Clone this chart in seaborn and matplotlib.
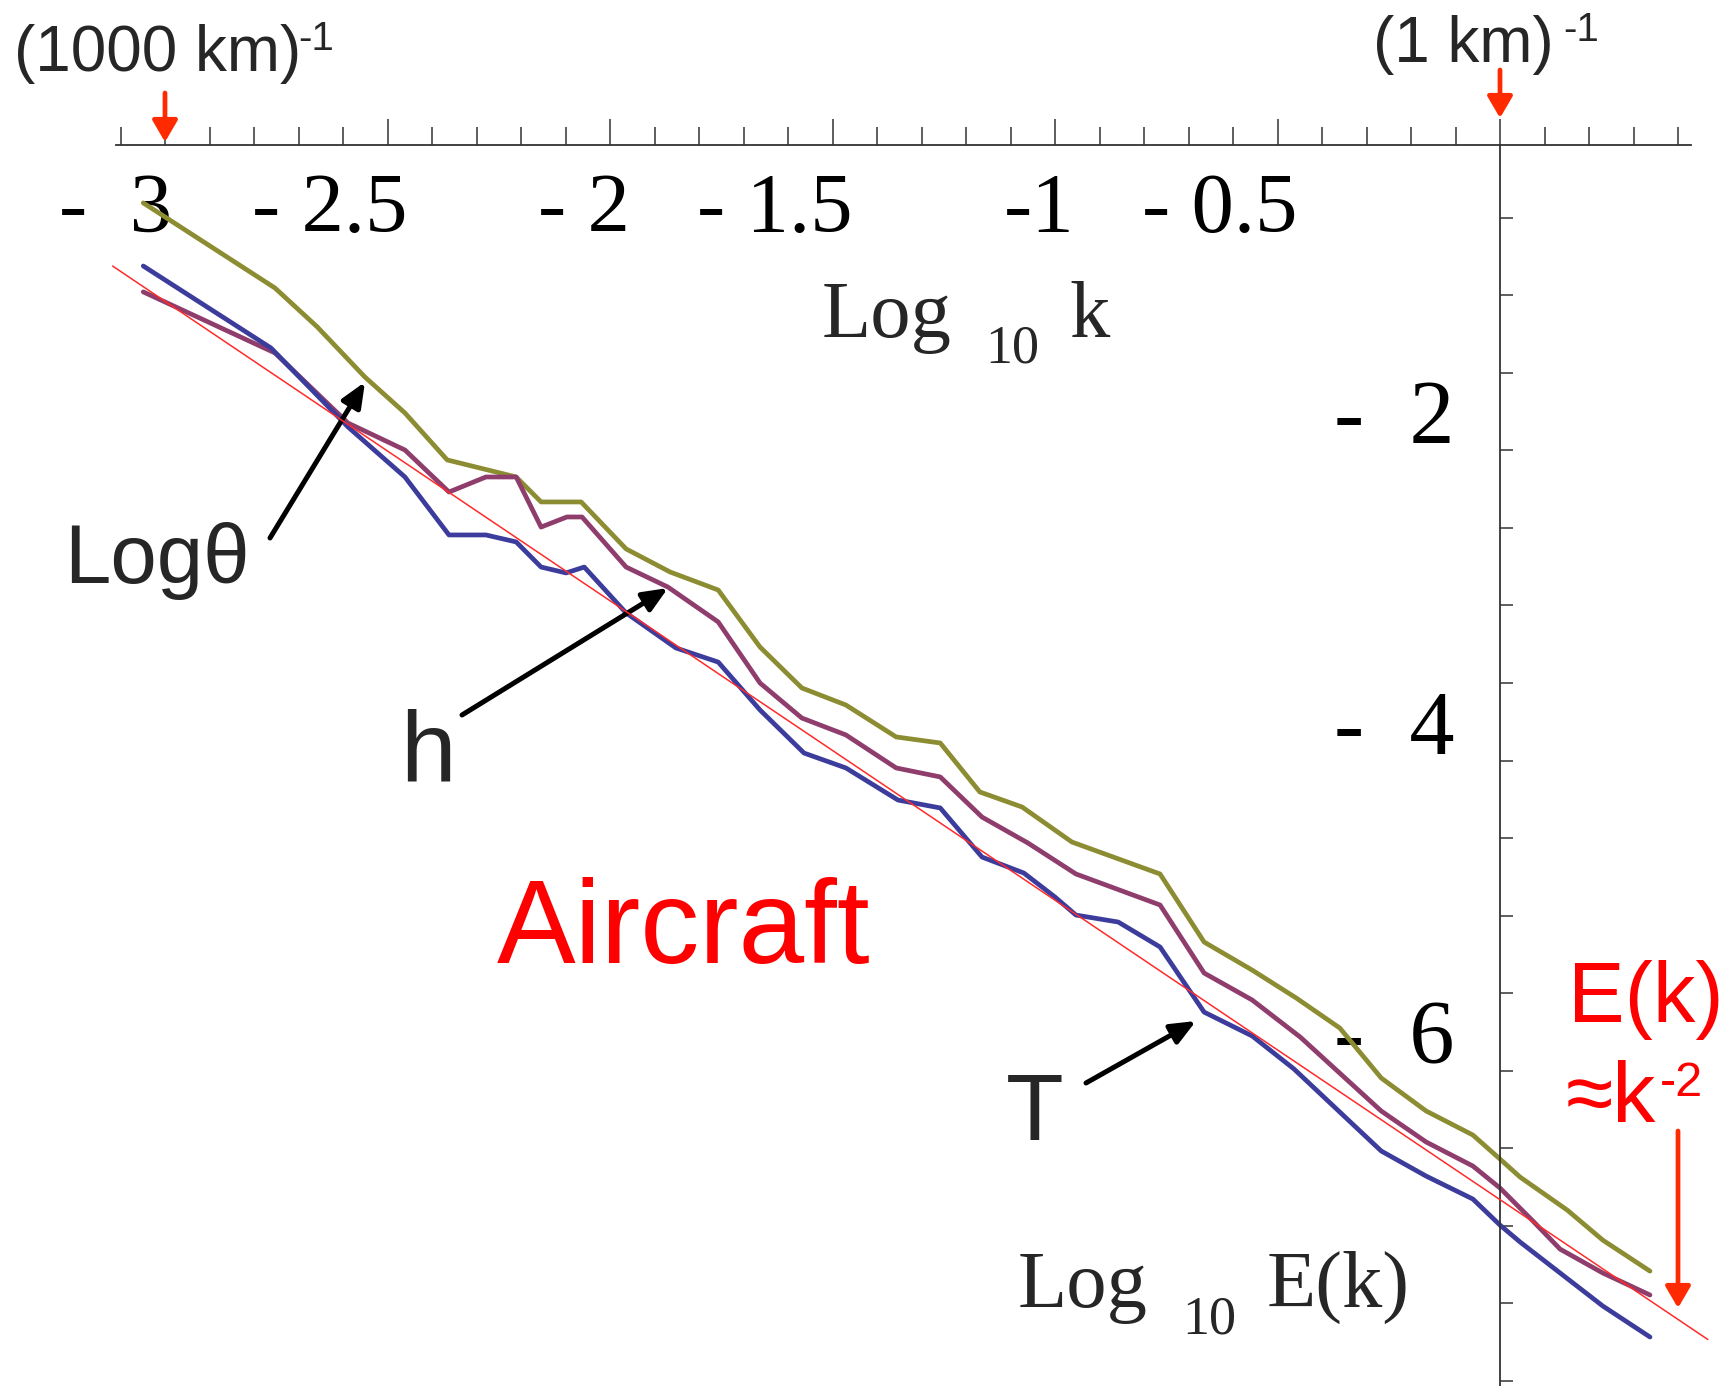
import numpy as np
import pandas as pd
import matplotlib
matplotlib.use('Agg')
import matplotlib.pyplot as plt
import matplotlib.transforms as mtransforms
import seaborn as sns

# Log10 k / Log10 E(k), one pair of lists per curve
logk_theta = [-3.049, -2.753, -2.658, -2.551, -2.461, -2.366, -2.211, -2.155, -2.065,
              -1.964, -1.865, -1.757, -1.663, -1.569, -1.470, -1.357, -1.258, -1.169,
              -1.074, -0.962, -0.764, -0.665, -0.557, -0.458, -0.360, -0.267, -0.166,
              -0.061, 0.0, 0.045, 0.151, 0.231, 0.337]
logE_theta = [-0.653, -1.202, -1.453, -1.776, -2.008, -2.311, -2.421, -2.582, -2.582,
              -2.885, -3.034, -3.150, -3.518, -3.782, -3.892, -4.098, -4.137, -4.453,
              -4.550, -4.776, -4.982, -5.421, -5.602, -5.782, -5.976, -6.298, -6.511,
              -6.666, -6.821, -6.937, -7.150, -7.344, -7.544]

logk_h = [-3.049, -2.753, -2.589, -2.461, -2.362, -2.279, -2.211, -2.155, -2.097,
          -2.063, -1.964, -1.870, -1.757, -1.663, -1.569, -1.470, -1.357, -1.258,
          -1.164, -1.061, -0.953, -0.764, -0.665, -0.557, -0.449, -0.267, -0.166,
          -0.061, 0.0, 0.074, 0.135, 0.231, 0.337]
logE_h = [-1.227, -1.621, -2.073, -2.247, -2.518, -2.421, -2.421, -2.744, -2.679,
          -2.679, -3.002, -3.131, -3.356, -3.750, -3.976, -4.085, -4.298, -4.356,
          -4.615, -4.782, -4.982, -5.182, -5.621, -5.795, -6.034, -6.511, -6.711,
          -6.866, -7.008, -7.221, -7.402, -7.556, -7.698]

logk_T = [-3.049, -2.762, -2.589, -2.461, -2.362, -2.279, -2.211, -2.155, -2.099,
          -2.058, -1.964, -1.852, -1.757, -1.663, -1.564, -1.470, -1.353, -1.258,
          -1.164, -1.070, -1.000, -0.953, -0.858, -0.764, -0.665, -0.557, -0.463,
          -0.267, -0.166, -0.061, 0.0, 0.045, 0.135, 0.231, 0.337]
logE_T = [-1.060, -1.589, -2.098, -2.421, -2.795, -2.795, -2.840, -3.002, -3.040,
          -3.002, -3.298, -3.524, -3.615, -3.924, -4.202, -4.298, -4.505, -4.556,
          -4.873, -4.976, -5.131, -5.247, -5.292, -5.453, -5.873, -6.027, -6.240,
          -6.769, -6.931, -7.079, -7.247, -7.356, -7.556, -7.769, -7.969]

# the k^-2 reference line
fit_logk = [-3.118, 0.467]
fit_logE = [-1.060, -7.985]

x_major = [-3, -2.5, -2, -1.5, -1, -0.5, 0]
x_labels = ['-  3', '- 2.5', '- 2', '- 1.5', '-1', '- 0.5', '']
y_major = [-2, -4, -6]
y_labels = ['-  2', '-  4', '-  6']

palette = {'Logθ': '#8c8c32', 'h': '#8e3d6c', 'T': '#3c3c9c'}

W, H = 1729, 1386


def fxy(px, py):
    # pixel position in the picture -> figure fraction
    return px / W, 1 - py / H


sns.set_style('white')
plt.rcParams['font.family'] = ['Liberation Sans', 'DejaVu Sans']

df = pd.concat([
    pd.DataFrame({'logk': logk_theta, 'logE': logE_theta, 'series': 'Logθ'}),
    pd.DataFrame({'logk': logk_h, 'logE': logE_h, 'series': 'h'}),
    pd.DataFrame({'logk': logk_T, 'logE': logE_T, 'series': 'T'}),
], ignore_index=True)

fig = plt.figure(figsize=(W / 100, H / 100), dpi=100)
ax = fig.add_axes([0, 0, 1, 1])

sns.lineplot(data=df, x='logk', y='logE', hue='series', palette=palette,
             sort=False, estimator=None, legend=False, linewidth=3.4, ax=ax)
ax.plot(fit_logk, fit_logE, color='#ff2a2a', lw=1.1, zorder=5)

ax.set_xlim(-3.371, 0.5146)
ax.set_ylim(-8.285, 0.656)
ax.set_xlabel('')
ax.set_ylabel('')

# Mathematica-style crossing axes
x_axis_y = -0.279
for s in ['top', 'right']:
    ax.spines[s].set_visible(False)
ax.spines['bottom'].set_position(('data', x_axis_y))
ax.spines['left'].set_position(('data', 0))
ax.spines['bottom'].set_bounds(-3.11, 0.43)
ax.spines['left'].set_bounds(-8.3, x_axis_y)
for s in ['bottom', 'left']:
    ax.spines[s].set_color('#333333')
    ax.spines[s].set_linewidth(1.3)

x_minor = [v for v in np.round(np.arange(-3.1, 0.45, 0.1), 2) if v not in x_major]
ax.set_xticks(x_major, labels=x_labels)
ax.set_xticks(x_minor, minor=True)
ax.set_yticks(y_major, labels=y_labels)
ax.set_yticks(np.arange(-0.75, -8.3, -0.5), minor=True)

ax.tick_params(axis='x', which='major', bottom=True, direction='in', length=19,
               width=1.1, color='#333333', pad=20, labelsize=61, labelcolor='black')
ax.tick_params(axis='x', which='minor', bottom=True, direction='in', length=13,
               width=1.1, color='#333333')
ax.tick_params(axis='y', which='major', left=True, length=0, pad=33,
               labelsize=65, labelcolor='black')
ax.tick_params(axis='y', which='minor', left=True, direction='in', length=9.5,
               width=1.1, color='#333333')

# labels sit a little right of their ticks' right-aligned spot
for i, lab in enumerate(ax.get_xticklabels()):
    dx = 0.07 if i == 0 else 0.2
    shift = mtransforms.ScaledTranslation(dx, 0, fig.dpi_scale_trans)
    lab.set_fontfamily('Liberation Serif')
    lab.set_ha('right')
    lab.set_transform(lab.get_transform() + shift)
for lab in ax.get_yticklabels():
    lab.set_fontfamily('Liberation Serif')

serif = 'Liberation Serif'
# axis labels
fig.text(*fxy(822, 337), 'Log', family=serif, fontsize=58, va='baseline')
fig.text(*fxy(985, 363), '10', family=serif, fontsize=39, va='baseline')
fig.text(*fxy(1069, 337), 'k', family=serif, fontsize=58, va='baseline')
fig.text(*fxy(1018, 1307), 'Log', family=serif, fontsize=58, va='baseline')
fig.text(*fxy(1182, 1333), '10', family=serif, fontsize=39, va='baseline')
fig.text(*fxy(1267, 1307), 'E(k)', family=serif, fontsize=58, va='baseline')

# scale markers on the k axis
fig.text(*fxy(14, 71), '(1000 km)', fontsize=46, va='baseline')
fig.text(*fxy(298, 50), '-1', fontsize=29, va='baseline')
fig.text(*fxy(1373, 62), '(1 km)', fontsize=46, va='baseline')
fig.text(*fxy(1563, 41), '-1', fontsize=29, va='baseline')

red_arrow = dict(arrowstyle='-|>,head_length=0.65,head_width=0.38', color='#ff2a00',
                 lw=3.4, mutation_scale=20, shrinkA=0, shrinkB=0)
for tail, tip in [((165, 93), (165, 142)), ((1500, 70), (1500, 118)),
                  ((1678, 1131), (1678, 1308))]:
    ax.annotate('', xy=fxy(*tip), xycoords='figure fraction',
                xytext=fxy(*tail), textcoords='figure fraction', arrowprops=red_arrow)

# curve labels
black_arrow = dict(arrowstyle='-|>,head_length=0.75,head_width=0.32', color='black',
                   lw=3.6, mutation_scale=20, shrinkA=0, shrinkB=0)
for tail, tip in [((270, 538), (365, 382)), ((462, 715), (668, 588)),
                  ((1086, 1083), (1196, 1021))]:
    ax.annotate('', xy=fxy(*tip), xycoords='figure fraction',
                xytext=fxy(*tail), textcoords='figure fraction', arrowprops=black_arrow)

fig.text(*fxy(64, 583), 'Logθ', fontsize=60, va='baseline')
fig.text(*fxy(400, 782), 'h', fontsize=72, va='baseline')
fig.text(*fxy(1006, 1140), 'T', fontsize=68, va='baseline')
fig.text(*fxy(497, 963), 'Aircraft', fontsize=85, color='#ff0000', va='baseline')

fig.text(*fxy(1568, 1022), 'E(k)', fontsize=61, color='#ff0000', va='baseline')
fig.text(*fxy(1566, 1122), '≈k', fontsize=62, color='#ff0000', va='baseline')
fig.text(*fxy(1660, 1096), '-2', fontsize=35, color='#ff0000', va='baseline')

fig.savefig('out.png', dpi=100)
